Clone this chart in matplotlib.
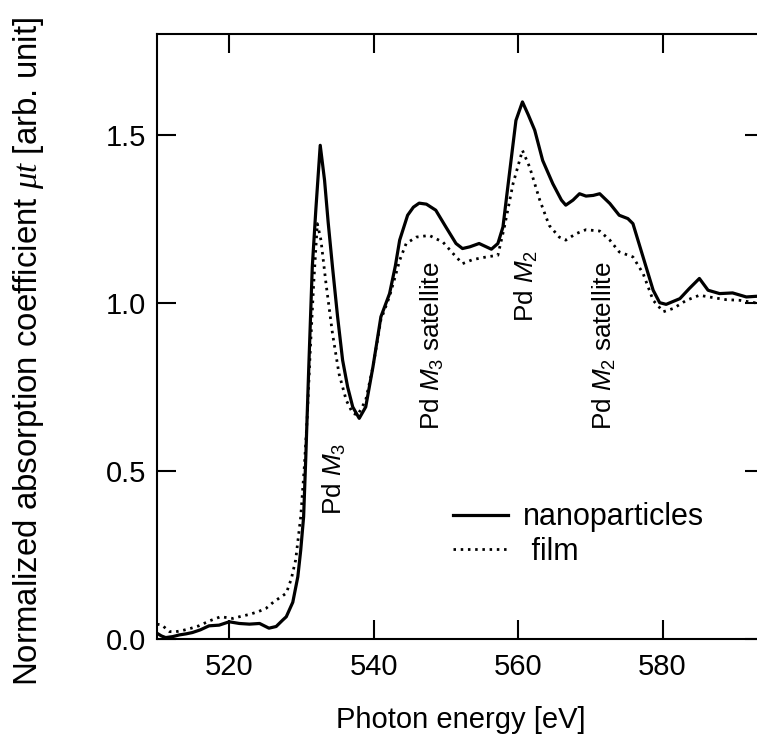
import matplotlib
matplotlib.use("Agg")
import matplotlib.pyplot as plt

plt.rcParams['font.family'] = ['Liberation Sans', 'DejaVu Sans']
plt.rcParams['mathtext.fontset'] = 'custom'
plt.rcParams['mathtext.rm'] = 'Liberation Sans'
plt.rcParams['mathtext.it'] = 'Liberation Sans:italic'
plt.rcParams['mathtext.bf'] = 'Liberation Serif:italic'

# nanoparticles (solid)
nano_e = [510.0, 510.6, 511.2, 512.2, 513.1, 514.0, 514.9, 516.0, 517.2, 518.6,
          520.0, 521.4, 522.8, 524.2, 525.5, 526.5, 527.4, 527.9, 528.8, 529.5,
          529.9, 530.3, 530.6, 531.0, 531.5, 532.0, 532.6, 533.2, 533.7, 534.3,
          535.0, 535.7, 536.4, 537.1, 538.0, 538.9, 539.9, 541.0, 542.2, 543.0,
          543.6, 544.7, 545.5, 546.3, 547.3, 548.6, 550.0, 551.4, 552.3, 553.3,
          554.6, 555.5, 556.3, 557.2, 557.9, 558.8, 559.7, 560.6, 561.4, 562.3,
          563.4, 564.8, 566.0, 566.6, 567.6, 568.5, 569.4, 570.4, 571.3, 572.7,
          574.0, 575.2, 575.9, 577.3, 578.7, 579.6, 580.5, 582.4, 583.7, 585.1,
          586.3, 587.9, 589.7, 591.6, 593.0, 594.0]
nano_mu = [0.018, 0.010, 0.005, 0.008, 0.013, 0.016, 0.020, 0.028, 0.040, 0.042,
           0.052, 0.047, 0.045, 0.047, 0.033, 0.038, 0.057, 0.067, 0.110, 0.186,
           0.265, 0.364, 0.540, 0.800, 1.107, 1.280, 1.469, 1.365, 1.240, 1.107,
           0.960, 0.830, 0.750, 0.691, 0.657, 0.691, 0.810, 0.959, 1.028, 1.110,
           1.187, 1.261, 1.285, 1.297, 1.294, 1.276, 1.226, 1.177, 1.162, 1.167,
           1.177, 1.168, 1.160, 1.177, 1.226, 1.385, 1.543, 1.598, 1.560, 1.514,
           1.424, 1.355, 1.306, 1.291, 1.306, 1.325, 1.318, 1.320, 1.325, 1.296,
           1.261, 1.251, 1.236, 1.137, 1.038, 1.001, 0.996, 1.013, 1.043, 1.073,
           1.038, 1.028, 1.030, 1.018, 1.020, 1.018]

# film (dotted)
film_e = [510.0, 510.7, 511.7, 512.5, 513.5, 514.6, 515.8, 517.3, 518.8, 520.5,
          521.6, 522.8, 524.0, 525.1, 526.2, 527.1, 527.9, 528.6, 529.2, 529.9,
          530.4, 530.8, 531.2, 531.7, 532.2, 532.7, 533.4, 534.3, 535.2, 536.2,
          537.1, 537.8, 538.9, 539.9, 541.0, 542.2, 543.0, 543.6, 544.5, 545.9,
          547.7, 549.6, 551.0, 552.3, 553.7, 555.6, 557.2, 558.1, 559.3, 560.6,
          561.6, 563.0, 564.3, 565.7, 566.6, 568.0, 569.4, 571.3, 572.7, 574.0,
          575.9, 577.3, 578.7, 580.1, 581.5, 583.3, 585.1, 587.0, 588.8, 590.7,
          593.0, 594.0]
film_mu = [0.045, 0.042, 0.023, 0.022, 0.026, 0.032, 0.040, 0.055, 0.067, 0.062,
           0.068, 0.074, 0.082, 0.092, 0.112, 0.125, 0.137, 0.180, 0.236, 0.364,
           0.513, 0.660, 0.850, 1.060, 1.236, 1.187, 1.058, 0.909, 0.790, 0.711,
           0.672, 0.667, 0.711, 0.810, 0.950, 1.020, 1.080, 1.127, 1.177, 1.196,
           1.201, 1.181, 1.147, 1.117, 1.129, 1.137, 1.142, 1.226, 1.355, 1.454,
           1.404, 1.306, 1.231, 1.196, 1.187, 1.206, 1.218, 1.214, 1.187, 1.152,
           1.137, 1.088, 1.008, 0.974, 0.984, 1.008, 1.023, 1.016, 1.010, 1.008,
           1.000, 0.998]

peak_labels = ['Pd $M_3$', 'Pd $M_3$ satellite', 'Pd $M_2$', 'Pd $M_2$ satellite']
peak_e = [534.5, 548.1, 561.2, 572.0]
peak_y = [0.37, 0.622, 0.944, 0.622]

xticks = [520, 540, 560, 580]
yticks = [0.0, 0.5, 1.0, 1.5]

fig = plt.figure(figsize=(7.57, 7.49), dpi=100)
ax = fig.add_axes([0.2074, 0.1465, 0.8014, 0.8081])

ax.plot(nano_e, nano_mu, color='black', lw=2.3, label='nanoparticles')
ax.plot(film_e, film_mu, color='black', lw=2.0, linestyle=(0, (0.9, 1.7)),
        label=' film')

for lab, xe, ye in zip(peak_labels, peak_e, peak_y):
    ax.text(xe, ye, lab, rotation=90, ha='center', va='bottom', fontsize=18.8)

ax.set_xlim(510, 594)
ax.set_ylim(0, 1.8)
ax.set_xticks(xticks)
ax.set_yticks(yticks)
ax.set_xticklabels([str(t) for t in xticks])
ax.set_yticklabels(['%.1f' % t for t in yticks])

for s in ax.spines.values():
    s.set_linewidth(1.5)
ax.tick_params(direction='in', length=13.7, width=1.5, top=True, right=True,
               labelsize=21)
ax.tick_params(axis='x', pad=10)
ax.tick_params(axis='y', pad=8)

ax.set_xlabel('Photon energy [eV]', fontsize=21)
ax.set_ylabel(r'Normalized absorption coefficient $\mathbf{\mu t}$ [arb. unit]',
              fontsize=23.8)
ax.xaxis.set_label_coords(0.5, -0.11)
ax.yaxis.set_label_coords(-0.183, 0.475)

ax.legend(loc='upper left', bbox_to_anchor=(0.488, 0.226), frameon=False,
          fontsize=22, handlelength=1.8, handletextpad=0.5, labelspacing=0.15,
          borderpad=0, borderaxespad=0)

fig.savefig('out.png', dpi=100)
